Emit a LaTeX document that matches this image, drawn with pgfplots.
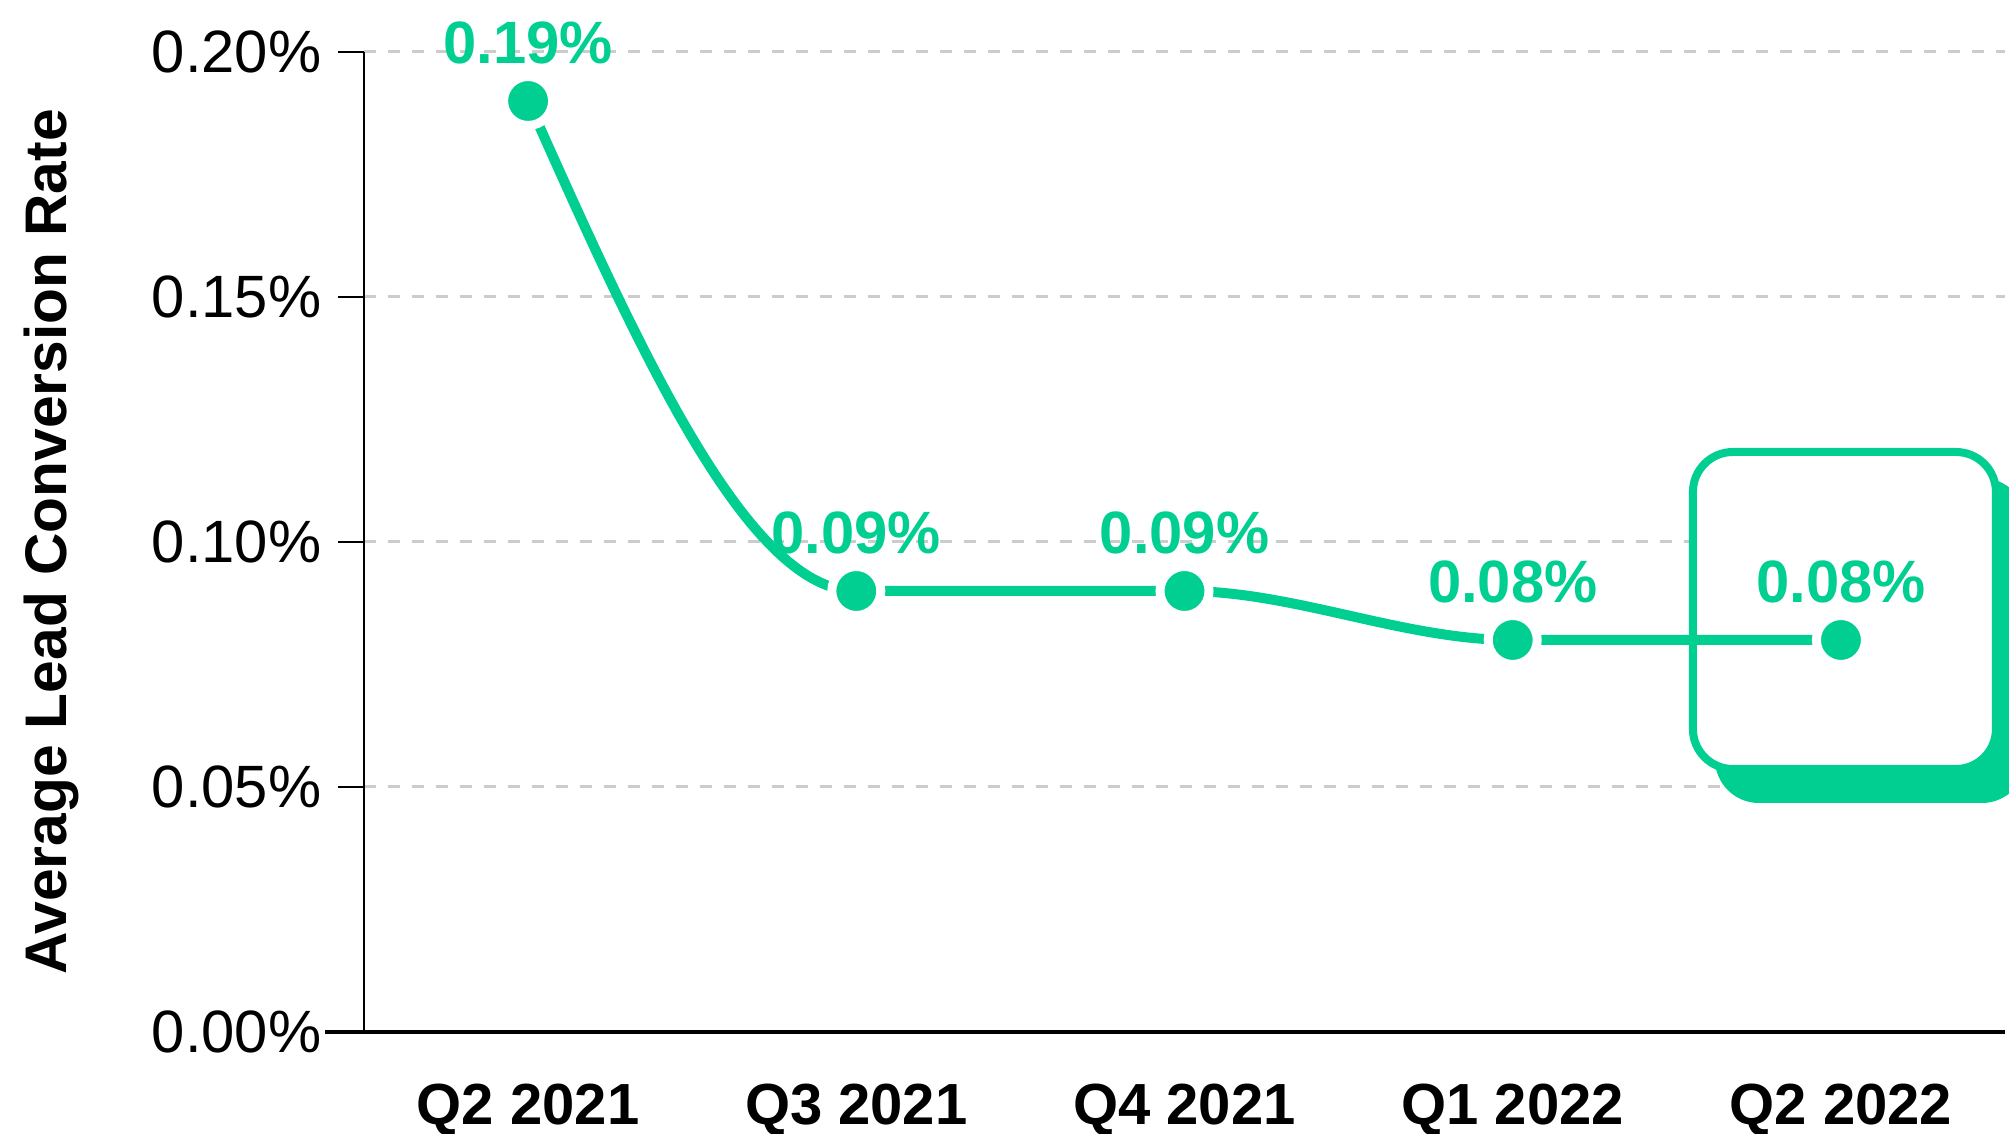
\documentclass[border=0pt]{standalone}
\usepackage{fontspec}
\setmainfont{Liberation Sans}
\usepackage{pgfplots}
\pgfplotsset{compat=1.18}

\definecolor{brand}{HTML}{00CF91}
\definecolor{gridgray}{HTML}{CCCCCC}

% monotone cubic path through the points (flat tangents at the inner points)
\makeatletter
\def\pgfplothandlermonotone{%
  \def\pgf@plotstreamstart{%
    \global\let\pgf@plotstreampoint=\mono@first
    \global\let\pgf@plotstreamspecial=\pgfutil@gobble
    \global\let\pgf@plotstreamend=\pgfutil@empty
  }%
}
\def\mono@first#1{%
  \pgf@process{#1}%
  \xdef\mono@lx{\the\pgf@x}\xdef\mono@ly{\the\pgf@y}%
  \pgf@plot@first@action{\pgfqpoint{\mono@lx}{\mono@ly}}%
  \global\let\pgf@plotstreampoint=\mono@second
}
\def\mono@second#1{%
  \pgf@process{#1}%
  \edef\mono@cx{\the\pgf@x}\edef\mono@cy{\the\pgf@y}%
  \edef\mono@dx{\the\dimexpr(\mono@cx-\mono@lx)/3\relax}%
  \edef\mono@ay{\the\dimexpr\mono@ly+(\mono@cy-\mono@ly)/2\relax}%
  \edef\mono@ax{\the\dimexpr\mono@lx+\mono@dx\relax}%
  \edef\mono@bx{\the\dimexpr\mono@cx-\mono@dx\relax}%
  \pgfpathcurveto{\pgfqpoint{\mono@ax}{\mono@ay}}{\pgfqpoint{\mono@bx}{\mono@cy}}{\pgfqpoint{\mono@cx}{\mono@cy}}%
  \global\let\mono@lx\mono@cx \global\let\mono@ly\mono@cy
  \global\let\pgf@plotstreampoint=\mono@rest
}
\def\mono@rest#1{%
  \pgf@process{#1}%
  \edef\mono@cx{\the\pgf@x}\edef\mono@cy{\the\pgf@y}%
  \edef\mono@dx{\the\dimexpr(\mono@cx-\mono@lx)/3\relax}%
  \edef\mono@ax{\the\dimexpr\mono@lx+\mono@dx\relax}%
  \edef\mono@bx{\the\dimexpr\mono@cx-\mono@dx\relax}%
  \pgfpathcurveto{\pgfqpoint{\mono@ax}{\mono@ly}}{\pgfqpoint{\mono@bx}{\mono@cy}}{\pgfqpoint{\mono@cx}{\mono@cy}}%
  \global\let\mono@lx\mono@cx \global\let\mono@ly\mono@cy
}
\tikzset{monotone/.code={\let\tikz@plot@handler=\pgfplothandlermonotone}}
\makeatother

\begin{document}
\begin{tikzpicture}
\begin{axis}[
    name=ax,
    at={(0,0)}, anchor=south west,
    scale only axis,
    width=164.1mm, height=98mm,
    xmin=-0.5, xmax=4.5,
    ymin=0, ymax=0.2,
    clip=false,
    axis lines=left,
    axis line style={-, black, line width=0.6pt},
    x axis line style={line width=0.9pt, shorten <=-3.9mm},
    xtick={0,1,2,3,4},
    xticklabels={Q2 2021, Q3 2021, Q4 2021, Q1 2022, Q2 2022},
    major x tick style={draw=none},
    xticklabel style={font=\fontsize{16.5}{19}\selectfont\bfseries, anchor=north, inner sep=0pt, yshift=-2.5mm},
    ytick={0,0.05,0.1,0.15,0.2},
    yticklabel={\pgfmathprintnumber[fixed,fixed zerofill,precision=2]{\tick}\%},
    yticklabel style={font=\fontsize{17}{20}\selectfont, anchor=east, inner sep=0pt, xshift=-1.6mm},
    /pgf/number format/assume math mode=true,
    tick align=outside,
    major tick length=2.6mm,
    major y tick style={black, line width=0.6pt},
    ymajorgrids,
    grid style={gridgray, line width=0.3mm, dash pattern=on 1.2mm off 1.2mm},
    ylabel={Average Lead Conversion Rate},
    ylabel style={font=\fontsize{16.7}{19}\selectfont\bfseries, at={(axis description cs:-0.1907,0.5)}, anchor=center},
]
% highlight box for the latest quarter
\fill[brand, rounded corners=4.4mm]
    ([xshift=-12.6mm,yshift=-16.3mm]axis cs:4,0.08) rectangle ([xshift=18.5mm,yshift=16.2mm]axis cs:4,0.08);
\draw[brand, fill=white, line width=0.8mm, rounded corners=4mm]
    ([xshift=-14.8mm,yshift=-12.9mm]axis cs:4,0.08) rectangle ([xshift=15.5mm,yshift=18.8mm]axis cs:4,0.08);

\addplot[
    monotone, brand, line width=1mm,
    mark=*, mark size=2.45mm,
    mark options={fill=brand, draw=white, line width=0.9mm},
    nodes near coords={\pgfmathprintnumber[fixed,fixed zerofill,precision=2]{\pgfplotspointmeta}\%},
    nodes near coords style={font=\fontsize{17}{20}\selectfont\bfseries, text=brand, anchor=base, inner sep=0pt, yshift=3.75mm},
] coordinates {
    (0,0.19)
    (1,0.09)
    (2,0.09)
    (3,0.08)
    (4,0.08)
};
\end{axis}
\pgfresetboundingbox
\path ([xshift=-36.4mm,yshift=-10.1mm]ax.south west) rectangle ([xshift=0.4mm,yshift=5.2mm]ax.north east);
\end{tikzpicture}
\end{document}
